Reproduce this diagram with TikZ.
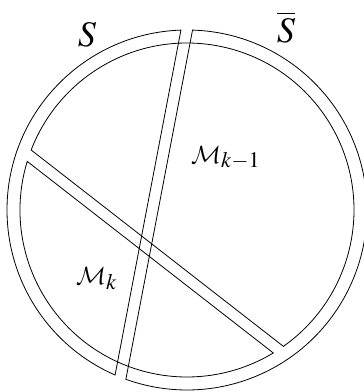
\documentclass[tikz,border=0pt]{standalone}
\usepackage{mathptmx}
\DeclareMathAlphabet{\mathcal}{OMS}{cmsy}{m}{n}
\begin{document}
\begin{tikzpicture}[x=1pt,y=1pt,
  region/.style={draw, line width=0.8pt, line join=miter},
  biglabel/.style={inner sep=0pt, font=\fontsize{36}{40}\selectfont},
  mlabel/.style={inner sep=0pt, anchor=base west, font=\fontsize{30}{33}\selectfont}]
\useasboundingbox (0,0) rectangle (364,392);
\begin{scope}[shift={(187,182)}]
  % outer circle split by the near-vertical strip
  \pgfmathsetmacro{\phiv}{-10.81}
  \pgfmathsetmacro{\aL}{acos(-39.7/180)}
  \pgfmathsetmacro{\aR}{acos(-28.3/180)}
  \pgfmathsetmacro{\sA}{\phiv+\aL}
  \pgfmathsetmacro{\sB}{360+\phiv-\aL}
  \pgfmathsetmacro{\tA}{\phiv+\aR}
  \pgfmathsetmacro{\tB}{\phiv-\aR}
  \path[region] (\sA:180) arc[start angle=\sA, end angle=\sB, radius=180] -- cycle;
  \path[region] (\tA:180) arc[start angle=\tA, end angle=\tB, radius=180] -- cycle;
  % inner circle split by the diagonal strip
  \pgfmathsetmacro{\psid}{52.1}
  \pgfmathsetmacro{\bU}{acos(-48.4/167)}
  \pgfmathsetmacro{\bD}{acos(-59.8/167)}
  \pgfmathsetmacro{\uA}{\psid-\bU}
  \pgfmathsetmacro{\uB}{\psid+\bU}
  \pgfmathsetmacro{\vA}{\psid+\bD}
  \pgfmathsetmacro{\vB}{360+\psid-\bD}
  \path[region] (\uA:167) arc[start angle=\uA, end angle=\uB, radius=167] -- cycle;
  \path[region] (\vA:167) arc[start angle=\vA, end angle=\vB, radius=167] -- cycle;
\end{scope}
\node[biglabel, anchor=base] (S) at (87,345) {$S$};
\node[biglabel, anchor=base] (Sbar) at (286,349) {$\overline{S}$};
\node[mlabel] (Mk1) at (191,229) {$\mathcal{M}_{k-1}$};
\node[mlabel] (Mk) at (76,107) {$\mathcal{M}_{k}$};
\end{tikzpicture}
\end{document}
